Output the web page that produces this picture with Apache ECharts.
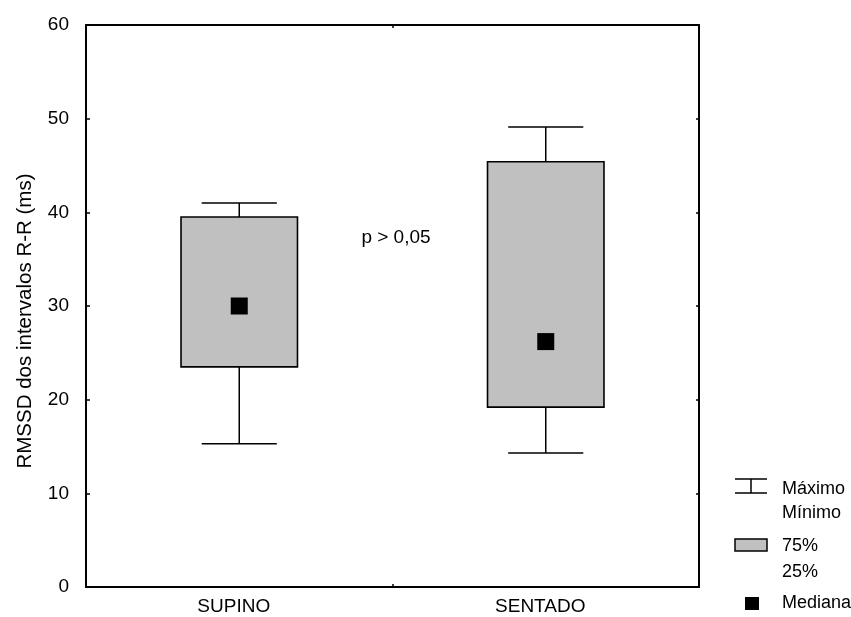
<!DOCTYPE html>
<html>
<head>
<meta charset="utf-8">
<script src="https://cdn.jsdelivr.net/npm/echarts@6/dist/echarts.min.js"></script>
<style>html,body{margin:0;padding:0;background:#fff}#c{width:851px;height:617px}</style>
</head>
<body>
<div id="c"></div>
<script>
var categories = ['SUPINO', 'SENTADO'];
var minimo = [15.3, 14.3];
var q1 = [23.5, 19.2];
var mediana = [30, 26.2];
var q3 = [39.5, 45.4];
var maximo = [41, 49.1];
var yTicks = [0, 10, 20, 30, 40, 50, 60];
var yName = 'RMSSD dos intervalos R-R (ms)';
var annotation = 'p > 0,05';
var legendLabels = ['Máximo', 'Mínimo', '75%', '25%', 'Mediana'];

var FONT = '"Liberation Sans", Arial, sans-serif';
var FS = 19;
var LFS = 18;

var boxData = categories.map(function (c, i) {
  return [i, minimo[i], q1[i], mediana[i], q3[i], maximo[i]];
});
var medData = categories.map(function (c, i) { return [i, mediana[i]]; });

var axisLine = { show: true, onZero: false, lineStyle: { color: '#000', width: 2 } };

var chart = echarts.init(document.getElementById('c'));
chart.setOption({
  animation: false,
  backgroundColor: '#fff',
  grid: { left: 86, right: 152, top: 25, bottom: 30, containLabel: false },
  xAxis: [
    {
      type: 'category', data: categories, position: 'bottom', boundaryGap: true,
      axisLine: axisLine,
      axisTick: { show: true, inside: true, length: 3, lineStyle: { color: '#000', width: 1.5 } },
      axisLabel: { color: '#000', fontFamily: FONT, fontSize: FS, margin: 10, padding: [0, 11, 0, 0] },
      splitLine: { show: false }
    },
    {
      type: 'category', data: categories, position: 'top', boundaryGap: true,
      axisLine: axisLine,
      axisTick: { show: true, inside: true, length: 3, lineStyle: { color: '#000', width: 1.5 } },
      axisLabel: { show: false },
      splitLine: { show: false }
    }
  ],
  yAxis: [
    {
      type: 'value', min: yTicks[0], max: yTicks[yTicks.length - 1], interval: 10, position: 'left',
      axisLine: axisLine,
      axisTick: { show: true, inside: true, length: 4, lineStyle: { color: '#000', width: 1.5 } },
      axisLabel: { color: '#000', fontFamily: FONT, fontSize: FS, margin: 17 },
      splitLine: { show: false },
      name: yName, nameLocation: 'middle', nameGap: 50, nameRotate: 90,
      nameTextStyle: { color: '#000', fontFamily: FONT, fontSize: 20.5, padding: [0, 30, 0, 0] }
    },
    {
      type: 'value', min: yTicks[0], max: yTicks[yTicks.length - 1], interval: 10, position: 'right',
      axisLine: axisLine,
      axisTick: { show: true, inside: true, length: 3, lineStyle: { color: '#000', width: 1.5 } },
      axisLabel: { show: false },
      splitLine: { show: false }
    }
  ],
  series: [
    {
      type: 'custom',
      xAxisIndex: 0, yAxisIndex: 0,
      data: boxData,
      encode: { x: 0, y: [1, 2, 3, 4, 5] },
      z: 2,
      renderItem: function (params, api) {
        var x = api.value(0);
        var pMin = api.coord([x, api.value(1)]);
        var pQ1 = api.coord([x, api.value(2)]);
        var pQ3 = api.coord([x, api.value(4)]);
        var pMax = api.coord([x, api.value(5)]);
        var band = api.size([1, 0])[0];
        var bw = band * 0.38;
        var cw = band * 0.245;
        var cx = pMin[0];
        var ls = { stroke: '#000', lineWidth: 1.5 };
        return {
          type: 'group',
          children: [
            { type: 'line', shape: { x1: cx, y1: pMax[1], x2: cx, y2: pMin[1] }, style: ls },
            { type: 'line', shape: { x1: cx - cw / 2, y1: pMax[1], x2: cx + cw / 2, y2: pMax[1] }, style: ls },
            { type: 'line', shape: { x1: cx - cw / 2, y1: pMin[1], x2: cx + cw / 2, y2: pMin[1] }, style: ls },
            { type: 'rect', shape: { x: cx - bw / 2, y: pQ3[1], width: bw, height: pQ1[1] - pQ3[1] },
              style: { fill: '#c0c0c0', stroke: '#000', lineWidth: 1.6 } }
          ]
        };
      }
    },
    {
      type: 'scatter',
      xAxisIndex: 0, yAxisIndex: 0,
      data: medData,
      symbol: 'rect',
      symbolSize: 17,
      itemStyle: { color: '#000', opacity: 1 },
      z: 5
    }
  ],
  graphic: [
    { type: 'text', x: 396, y: 238, style: { text: annotation, fill: '#000', font: FS + 'px ' + FONT, textAlign: 'center', textVerticalAlign: 'middle' } },
    { type: 'line', shape: { x1: 735, y1: 479, x2: 767, y2: 479 }, style: { stroke: '#000', lineWidth: 1.5 } },
    { type: 'line', shape: { x1: 751, y1: 479, x2: 751, y2: 493 }, style: { stroke: '#000', lineWidth: 1.5 } },
    { type: 'line', shape: { x1: 735, y1: 493, x2: 767, y2: 493 }, style: { stroke: '#000', lineWidth: 1.5 } },
    { type: 'rect', shape: { x: 735, y: 539, width: 32, height: 12 }, style: { fill: '#c0c0c0', stroke: '#000', lineWidth: 1.5 } },
    { type: 'rect', shape: { x: 745, y: 597, width: 14, height: 13 }, style: { fill: '#000' } },
    { type: 'text', x: 782, y: 489, style: { text: legendLabels[0], fill: '#000', font: LFS + 'px ' + FONT, textVerticalAlign: 'middle' } },
    { type: 'text', x: 782, y: 513, style: { text: legendLabels[1], fill: '#000', font: LFS + 'px ' + FONT, textVerticalAlign: 'middle' } },
    { type: 'text', x: 782, y: 546, style: { text: legendLabels[2], fill: '#000', font: LFS + 'px ' + FONT, textVerticalAlign: 'middle' } },
    { type: 'text', x: 782, y: 572, style: { text: legendLabels[3], fill: '#000', font: LFS + 'px ' + FONT, textVerticalAlign: 'middle' } },
    { type: 'text', x: 782, y: 603, style: { text: legendLabels[4], fill: '#000', font: LFS + 'px ' + FONT, textVerticalAlign: 'middle' } }
  ]
});
</script>
</body>
</html>
